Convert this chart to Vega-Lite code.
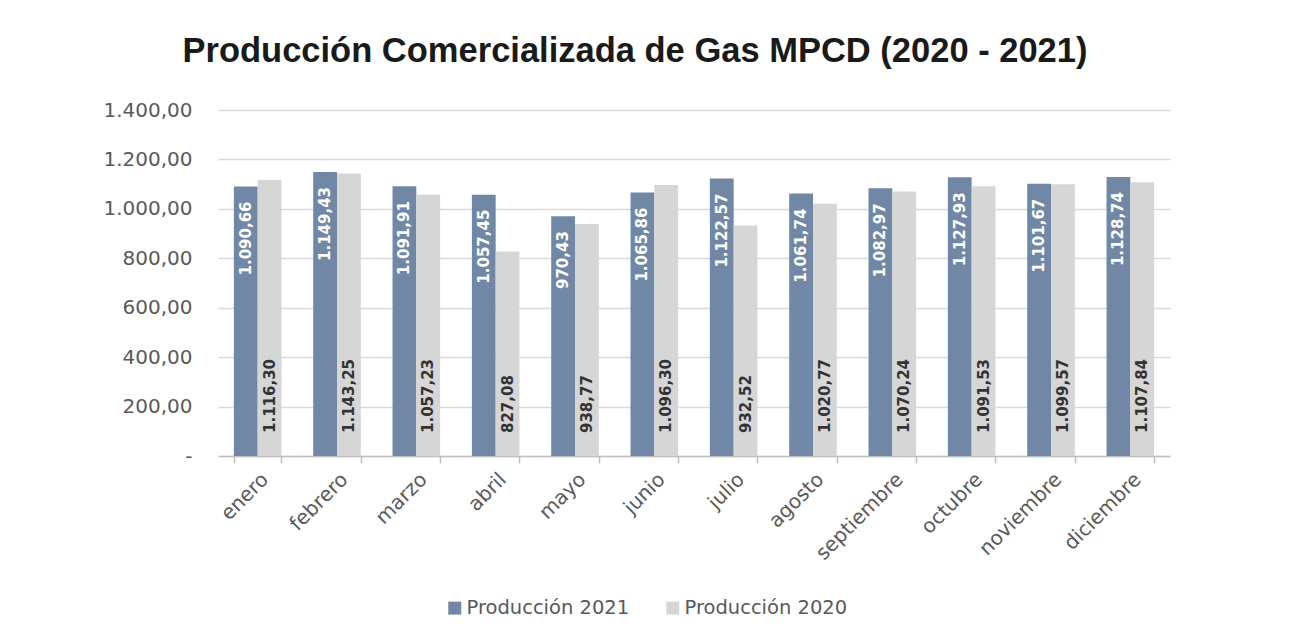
{
  "$schema": "https://vega.github.io/schema/vega-lite/v6.json",
  "autosize": {"type": "none"},
  "width": 952,
  "height": 346,
  "padding": {"left": 218, "top": 110, "right": 119, "bottom": 177},
  "background": "white",
  "config": {
    "locale": {"number": {"decimal": ",", "thousands": ".", "grouping": [3], "currency": ["", ""]}},
    "view": {"stroke": null},
    "font": "DejaVu Sans"
  },
  "title": {
    "text": "Producción Comercializada de Gas MPCD (2020 - 2021)",
    "font": "Liberation Sans",
    "fontSize": 34.5,
    "fontWeight": "bold",
    "color": "#1a1a1a",
    "anchor": "middle",
    "frame": "group",
    "dx": -59,
    "offset": 31
  },
  "data": {
    "values": [
      {"mes": "enero", "serie": "Producción 2021", "valor": 1090.66},
      {"mes": "febrero", "serie": "Producción 2021", "valor": 1149.43},
      {"mes": "marzo", "serie": "Producción 2021", "valor": 1091.91},
      {"mes": "abril", "serie": "Producción 2021", "valor": 1057.45},
      {"mes": "mayo", "serie": "Producción 2021", "valor": 970.43},
      {"mes": "junio", "serie": "Producción 2021", "valor": 1065.86},
      {"mes": "julio", "serie": "Producción 2021", "valor": 1122.57},
      {"mes": "agosto", "serie": "Producción 2021", "valor": 1061.74},
      {"mes": "septiembre", "serie": "Producción 2021", "valor": 1082.97},
      {"mes": "octubre", "serie": "Producción 2021", "valor": 1127.93},
      {"mes": "noviembre", "serie": "Producción 2021", "valor": 1101.67},
      {"mes": "diciembre", "serie": "Producción 2021", "valor": 1128.74},
      {"mes": "enero", "serie": "Producción 2020", "valor": 1116.30},
      {"mes": "febrero", "serie": "Producción 2020", "valor": 1143.25},
      {"mes": "marzo", "serie": "Producción 2020", "valor": 1057.23},
      {"mes": "abril", "serie": "Producción 2020", "valor": 827.08},
      {"mes": "mayo", "serie": "Producción 2020", "valor": 938.77},
      {"mes": "junio", "serie": "Producción 2020", "valor": 1096.30},
      {"mes": "julio", "serie": "Producción 2020", "valor": 932.52},
      {"mes": "agosto", "serie": "Producción 2020", "valor": 1020.77},
      {"mes": "septiembre", "serie": "Producción 2020", "valor": 1070.24},
      {"mes": "octubre", "serie": "Producción 2020", "valor": 1091.53},
      {"mes": "noviembre", "serie": "Producción 2020", "valor": 1099.57},
      {"mes": "diciembre", "serie": "Producción 2020", "valor": 1107.84}
    ]
  },
  "encoding": {
    "x": {
      "field": "mes",
      "type": "nominal",
      "sort": ["enero", "febrero", "marzo", "abril", "mayo", "junio", "julio", "agosto", "septiembre", "octubre", "noviembre", "diciembre"],
      "scale": {"paddingInner": 0.4, "paddingOuter": 0.2},
      "axis": {
        "title": null,
        "labelAngle": -45,
        "labelFont": "DejaVu Sans",
        "labelFontSize": 20,
        "labelColor": "#595959",
        "labelPadding": 6,
        "tickBand": "extent",
        "tickColor": "#bfbfbf",
        "tickSize": 7,
        "tickWidth": 1.5,
        "domainColor": "#bfbfbf",
        "domainWidth": 1.5,
        "grid": false
      }
    },
    "xOffset": {
      "field": "serie",
      "type": "nominal",
      "sort": ["Producción 2021", "Producción 2020"],
      "scale": {"paddingInner": 0, "paddingOuter": 0}
    },
    "y": {
      "field": "valor",
      "type": "quantitative",
      "scale": {"domain": [0, 1400], "nice": false},
      "axis": {
        "title": null,
        "values": [0, 200, 400, 600, 800, 1000, 1200, 1400],
        "format": ",.2f",
        "labelExpr": "datum.value == 0 ? '-' : datum.label",
        "labelFont": "DejaVu Sans",
        "labelFontSize": 20,
        "labelColor": "#595959",
        "labelPadding": 26,
        "ticks": false,
        "domain": false,
        "gridColor": "#d9d9d9",
        "gridWidth": 1.5
      }
    }
  },
  "layer": [
    {
      "mark": {"type": "bar"},
      "encoding": {
        "color": {
          "field": "serie",
          "type": "nominal",
          "scale": {"domain": ["Producción 2021", "Producción 2020"], "range": ["#7088a6", "#d6d6d6"]},
          "legend": {
            "title": null,
            "orient": "none",
            "direction": "horizontal",
            "legendX": 227,
            "legendY": 488,
            "symbolType": "square",
            "symbolSize": 169,
            "symbolStrokeWidth": 0,
            "labelFont": "DejaVu Sans",
            "labelFontSize": 19.5,
            "labelColor": "#595959",
            "labelOffset": 2,
            "labelLimit": 400,
            "columnPadding": 33
          }
        }
      }
    },
    {
      "transform": [{"filter": "datum.serie == 'Producción 2021'"}],
      "mark": {"type": "text", "angle": 270, "align": "right", "baseline": "middle", "dx": -15, "font": "DejaVu Sans", "fontSize": 15, "fontWeight": "bold", "color": "white"},
      "encoding": {
        "text": {"field": "valor", "type": "quantitative", "format": ",.2f"}
      }
    },
    {
      "transform": [{"filter": "datum.serie == 'Producción 2020'"}],
      "mark": {"type": "text", "angle": 270, "align": "left", "baseline": "middle", "dx": 23, "font": "DejaVu Sans", "fontSize": 15, "fontWeight": "bold", "color": "#333333"},
      "encoding": {
        "y": {"datum": 0, "type": "quantitative"},
        "text": {"field": "valor", "type": "quantitative", "format": ",.2f"}
      }
    }
  ]
}
